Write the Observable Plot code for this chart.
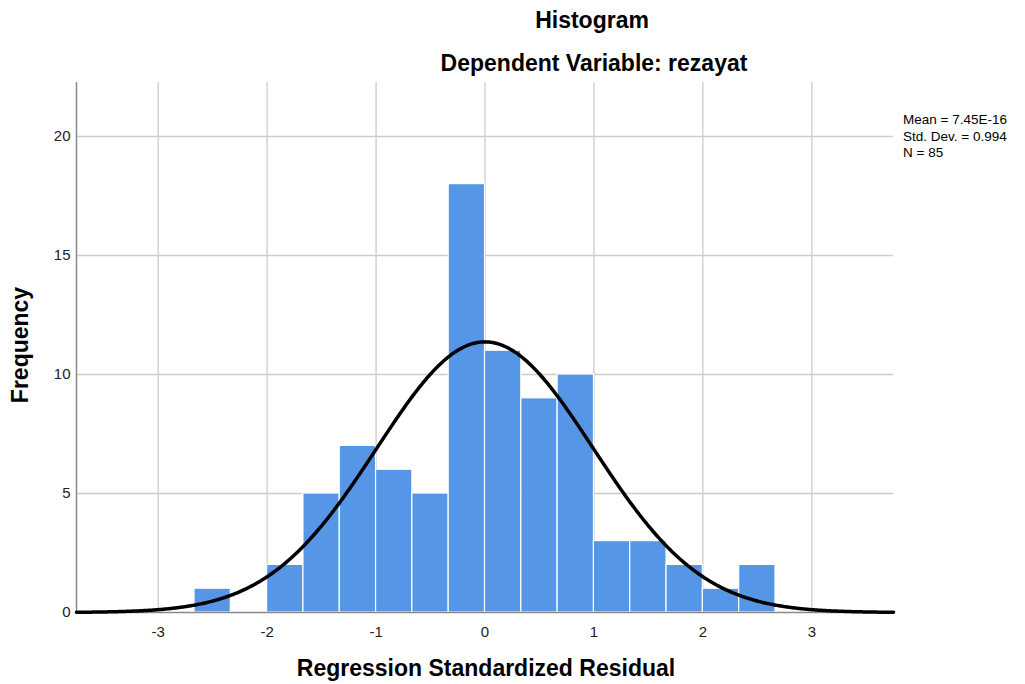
<!DOCTYPE html>
<html>
<head>
<meta charset="utf-8">
<script src="https://cdn.jsdelivr.net/npm/d3@7"></script>
<script src="https://cdn.jsdelivr.net/npm/@observablehq/plot@0.6"></script>
<style>
  body { margin: 0; background: #fff; font-family: Arial, "Liberation Sans", sans-serif; }
  #wrap { position: relative; width: 1025px; height: 684px; overflow: hidden; }
  #chart { position: absolute; left: 0; top: 0; }
  .t { position: absolute; font-weight: bold; font-size: 23px; color: #000; white-space: nowrap; transform: translate(-50%, -50%); }
  #stats { position: absolute; left: 903px; top: 112px; font-size: 13.5px; line-height: 16.5px; color: #000; white-space: nowrap; }
</style>
</head>
<body>
<div id="wrap">
  <div id="chart"></div>
  <div class="t" style="left:592px; top:20px;">Histogram</div>
  <div class="t" style="left:594px; top:63px;">Dependent Variable: rezayat</div>
  <div class="t" style="left:486px; top:668px;">Regression Standardized Residual</div>
  <div class="t" style="left:20px; top:345px; transform: translate(-50%, -50%) rotate(-90deg);">Frequency</div>
  <div id="stats"></div>
</div>
<script>
// Histogram bins (lower edges, width 1/3) and counts
const binStarts = [-8/3, -7/3, -6/3, -5/3, -4/3, -3/3, -2/3, -1/3, 0, 1/3, 2/3, 3/3, 4/3, 5/3, 6/3, 7/3];
const counts    = [1, 0, 2, 5, 7, 6, 5, 18, 11, 9, 10, 3, 3, 2, 1, 2];
const binWidth = 1/3;

// Summary statistics shown in the legend
const meanVal = 7.45e-16;
const sdVal = 0.994;
const nVal = 85;
const statsLines = ["Mean = 7.45E-16", "Std. Dev. = 0.994", "N = 85"];

const xTicks = [-3, -2, -1, 0, 1, 2, 3];
const yTicks = [0, 5, 10, 15, 20];
const xDomain = [-3.75, 3.75];
const yDomain = [0, 22.27];

const bars = binStarts.map((s, i) => ({x1: s, x2: s + binWidth, y: counts[i]}));

// Fitted normal curve scaled to counts (N * bin width * pdf)
const curveX = d3.range(xDomain[0], xDomain[1] + 1e-9, 0.01);
const curve = curveX.map(x => ({
  x,
  y: nVal * binWidth * Math.exp(-0.5 * ((x - meanVal) / sdVal) ** 2) / (sdVal * Math.sqrt(2 * Math.PI))
}));

document.getElementById("stats").innerHTML = statsLines.join("<br>");

const fmt = d => d < 0 ? "-" + Math.abs(d) : String(d);

const chart = Plot.plot({
  width: 1025,
  height: 684,
  marginLeft: 76,
  marginRight: 132,
  marginTop: 82,
  marginBottom: 72,
  style: { fontFamily: "Arial, 'Liberation Sans', sans-serif", fontSize: "15px", background: "white", color: "#222" },
  x: { domain: xDomain, ticks: xTicks, tickSize: 0, label: null },
  y: { domain: yDomain, ticks: yTicks, tickSize: 0, label: null },
  marks: [
    Plot.gridX(xTicks, { stroke: "#cccccc", strokeOpacity: 1, strokeWidth: 1.3 }),
    Plot.gridY(yTicks.filter(d => d > 0), { stroke: "#cccccc", strokeOpacity: 1, strokeWidth: 1.3 }),
    Plot.rectY(bars, { x1: "x1", x2: "x2", y: "y", fill: "#5596e6", stroke: "white", strokeWidth: 1.2 }),
    Plot.ruleX([xDomain[0]], { stroke: "#8a8a8a", strokeWidth: 1.5 }),
    Plot.ruleY([0], { stroke: "#8a8a8a", strokeWidth: 1.5 }),
    Plot.line(curve, { x: "x", y: "y", stroke: "black", strokeWidth: 3.5 }),
    Plot.axisX({ ticks: xTicks, tickSize: 0, tickPadding: 14, tickFormat: fmt, label: null }),
    Plot.axisY({ ticks: yTicks, tickSize: 0, tickPadding: 6, label: null })
  ]
});
document.getElementById("chart").appendChild(chart);
</script>
</body>
</html>
